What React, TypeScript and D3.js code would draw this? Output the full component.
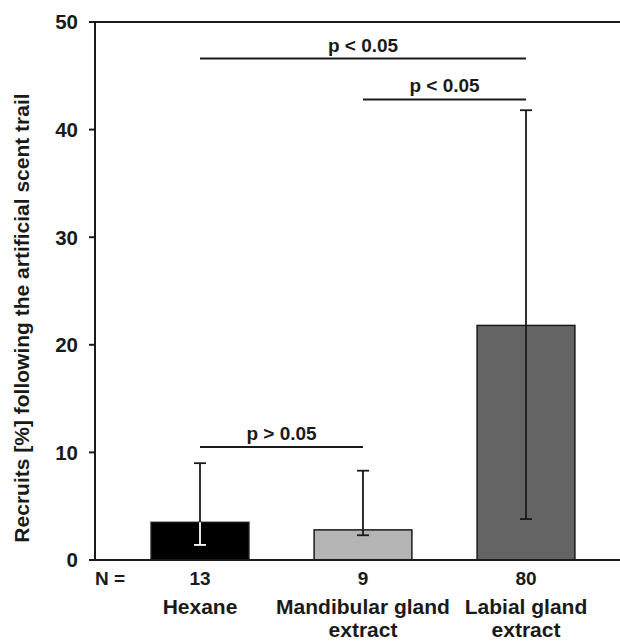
import * as d3 from 'd3';

const categories = ['Hexane', 'Mandibular gland\nextract', 'Labial gland\nextract'];
const sampleSizes = ['13', '9', '80'];
const means = [3.5, 2.8, 21.8];
const errLow = [1.4, 2.3, 3.8];
const errHigh = [9.0, 8.3, 41.8];
const barFills = ['#000000', '#b4b4b4', '#646464'];
const yTicks = [0, 10, 20, 30, 40, 50];

// significance brackets: [from index, to index, y level, label]
const sigFrom = [0, 1, 0];
const sigTo = [2, 2, 1];
const sigLevel = [46.6, 42.8, 10.5];
const sigLabels = ['p < 0.05', 'p < 0.05', 'p > 0.05'];

const W = 620;
const H = 641;
const AXIS_X = 95;
const FONT = '"Liberation Sans", Arial, sans-serif';
const INK = '#1a1a1a';

export default function App() {
  const y = d3.scaleLinear().domain([0, 50]).range([560, 22]);
  const x = d3.scaleBand<number>()
    .domain(d3.range(categories.length))
    .range([118.5, 607.5])
    .paddingInner(0.4)
    .paddingOuter(0.2);
  const bw = x.bandwidth();
  const cx = (i: number) => (x(i) ?? 0) + bw / 2;

  return (
    <svg width={W} height={H} style={{ position: 'absolute', left: 0, top: 0 }} fontFamily={FONT}>
      <rect width={W} height={H} fill="#fff" />

      {/* bars */}
      {means.map((m, i) => (
        <rect key={`b${i}`} x={x(i)} y={y(m)} width={bw} height={y(0) - y(m)}
          fill={barFills[i]} stroke={INK} strokeWidth={1.5} />
      ))}

      {/* error bars */}
      {means.map((m, i) => {
        const c = cx(i);
        const lowColor = i === 0 ? '#fff' : INK;
        return (
          <g key={`e${i}`} strokeWidth={1.8}>
            <line x1={c} x2={c} y1={y(errHigh[i])} y2={y(m)} stroke={INK} />
            <line x1={c - 6} x2={c + 6} y1={y(errHigh[i])} y2={y(errHigh[i])} stroke={INK} />
            <line x1={c} x2={c} y1={y(m)} y2={y(errLow[i])} stroke={lowColor} />
            <line x1={c - 6} x2={c + 6} y1={y(errLow[i])} y2={y(errLow[i])} stroke={lowColor} />
          </g>
        );
      })}

      {/* frame */}
      <line x1={AXIS_X} x2={AXIS_X} y1={y(50)} y2={y(0)} stroke={INK} strokeWidth={2} />
      <line x1={AXIS_X} x2={W} y1={y(50)} y2={y(50)} stroke={INK} strokeWidth={2} />
      <line x1={AXIS_X - 6} x2={W} y1={y(0)} y2={y(0)} stroke={INK} strokeWidth={2} />

      {/* y ticks */}
      {yTicks.map((t) => (
        <g key={`t${t}`}>
          <line x1={AXIS_X - 6} x2={AXIS_X} y1={y(t)} y2={y(t)} stroke={INK} strokeWidth={2} />
          <text x={AXIS_X - 17} y={y(t)} dy="0.36em" textAnchor="end" fontSize={20.5} fontWeight="bold" fill={INK}>
            {t}
          </text>
        </g>
      ))}

      <text transform={`translate(29,${318}) rotate(-90)`} textAnchor="middle" fontSize={21}
        fontWeight="bold" fill={INK}>
        Recruits [%] following the artificial scent trail
      </text>

      {/* significance */}
      {sigLabels.map((lab, k) => {
        const x1 = cx(sigFrom[k]);
        const x2 = cx(sigTo[k]);
        return (
          <g key={`s${k}`}>
            <line x1={x1} x2={x2} y1={y(sigLevel[k])} y2={y(sigLevel[k])} stroke={INK} strokeWidth={2} />
            <text x={(x1 + x2) / 2} y={y(sigLevel[k]) - 7} textAnchor="middle" fontSize={19}
              fontWeight="bold" fill={INK}>
              {lab}
            </text>
          </g>
        );
      })}

      {/* N and categories */}
      <text x={AXIS_X} y={585} fontSize={19} fontWeight="bold" fill={INK}>N =</text>
      {sampleSizes.map((n, i) => (
        <text key={`n${i}`} x={cx(i)} y={585} textAnchor="middle" fontSize={19} fontWeight="bold" fill={INK}>
          {n}
        </text>
      ))}
      {categories.map((c, i) => (
        <text key={`c${i}`} x={cx(i)} y={614} textAnchor="middle" fontSize={21} fontWeight="bold" fill={INK}>
          {c.split('\n').map((ln, j) => (
            <tspan key={j} x={cx(i)} dy={j === 0 ? 0 : 23}>{ln}</tspan>
          ))}
        </text>
      ))}
    </svg>
  );
}
